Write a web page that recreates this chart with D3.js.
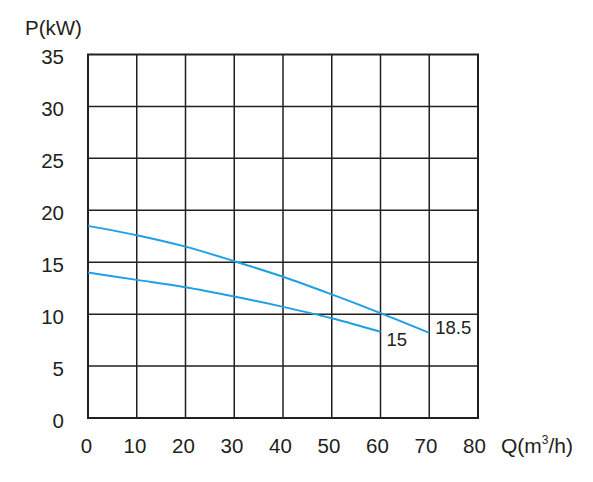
<!DOCTYPE html>
<html>
<head>
<meta charset="utf-8">
<script src="https://cdn.jsdelivr.net/npm/d3@7"></script>
<style>
  body { margin: 0; background: #fff; }
  text { font-family: Arial, "Liberation Sans", sans-serif; fill: #231f20; }
</style>
</head>
<body>
<svg id="chart" width="593" height="482"></svg>
<script>
// flow (m3/h) and power (kW)
var flow185 = [0, 10, 20, 30, 40, 50, 60, 70];
var power185 = [18.5, 17.6, 16.5, 15.1, 13.6, 11.9, 10.1, 8.2];
var flow15 = [0, 10, 20, 30, 40, 50, 60];
var power15 = [14.0, 13.3, 12.6, 11.7, 10.7, 9.6, 8.3];
var curveNames = ['18.5', '15'];
var xTicks = [0, 10, 20, 30, 40, 50, 60, 70, 80];
var yTicks = [0, 5, 10, 15, 20, 25, 30, 35];

var margin = {top: 54.5, left: 88, right: 115, bottom: 64}
  , width = 593
  , height = 482
  , blue = '#1ea0e4'
  , ink = '#231f20'
  , fontSize = 20.5
  ;

var svg = d3.select('#chart');

var x = d3.scaleLinear().domain([0, 80]).range([margin.left, width - margin.right]);
var y = d3.scaleLinear().domain([0, 35]).range([height - margin.bottom, margin.top]);

// grid
svg.append('g').selectAll('line')
    .data(xTicks.slice(1, -1))
  .enter().append('line')
    .attr('x1', function (d) { return x(d); })
    .attr('x2', function (d) { return x(d); })
    .attr('y1', y(0))
    .attr('y2', y(35))
    .attr('stroke', ink)
    .attr('stroke-width', 1.5);

svg.append('g').selectAll('line')
    .data(yTicks.slice(1, -1))
  .enter().append('line')
    .attr('x1', x(0))
    .attr('x2', x(80))
    .attr('y1', function (d) { return y(d); })
    .attr('y2', function (d) { return y(d); })
    .attr('stroke', ink)
    .attr('stroke-width', 1.5);

svg.append('rect')
    .attr('x', x(0))
    .attr('y', y(35))
    .attr('width', x(80) - x(0))
    .attr('height', y(0) - y(35))
    .attr('fill', 'none')
    .attr('stroke', ink)
    .attr('stroke-width', 2);

// tick labels
svg.append('g').selectAll('text')
    .data(yTicks)
  .enter().append('text')
    .attr('x', 64)
    .attr('y', function (d) { return y(d) + 9.5; })
    .attr('text-anchor', 'end')
    .attr('font-size', fontSize)
    .text(function (d) { return d; });

svg.append('g').selectAll('text')
    .data(xTicks)
  .enter().append('text')
    .attr('x', function (d, i) { return x(d) - 1.5 - i * 0.25; })
    .attr('y', 453)
    .attr('text-anchor', 'middle')
    .attr('font-size', fontSize)
    .text(function (d) { return d; });

svg.append('text')
    .attr('x', 25)
    .attr('y', 35)
    .attr('font-size', fontSize)
    .text('P(kW)');

var q = svg.append('text')
    .attr('x', 501)
    .attr('y', 453)
    .attr('font-size', 21);
q.append('tspan').text('Q(m');
q.append('tspan').attr('font-size', 12).attr('dy', -9).text('3');
q.append('tspan').attr('dy', 9).text('/h)');

// curves
var line = d3.line()
    .x(function (d) { return x(d[0]); })
    .y(function (d) { return y(d[1]); })
    .curve(d3.curveMonotoneX);

var curves = [d3.zip(flow185, power185), d3.zip(flow15, power15)];

svg.append('g').selectAll('path')
    .data(curves)
  .enter().append('path')
    .attr('d', line)
    .attr('fill', 'none')
    .attr('stroke', blue)
    .attr('stroke-width', 2);

svg.append('text')
    .attr('x', x(70) + 6)
    .attr('y', y(8.2) + 1.5)
    .attr('font-size', 18.5)
    .text(curveNames[0]);

svg.append('text')
    .attr('x', x(60) + 6)
    .attr('y', y(8.3) + 14)
    .attr('font-size', 18.5)
    .text(curveNames[1]);
</script>
</body>
</html>
